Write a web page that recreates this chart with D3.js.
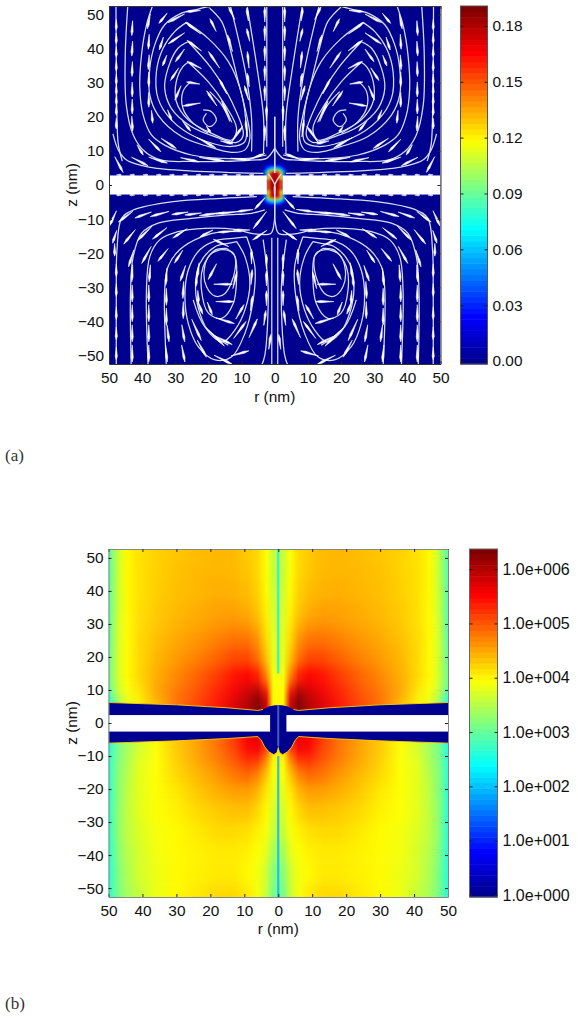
<!DOCTYPE html>
<html>
<head>
<meta charset="utf-8">
<script src="https://cdn.jsdelivr.net/npm/d3@7"></script>
<style>
    html, body { margin: 0; background: #fff; }
    svg { display: block; }
</style>
</head>
<body>
<svg id="chart" width="578" height="1020"></svg>
<script>
// shared ticks
const axisTicks = [-50, -40, -30, -20, -10, 0, 10, 20, 30, 40, 50];

// panel (a) colorbar
const velocityTicks = [0, 0.03, 0.06, 0.09, 0.12, 0.15, 0.18];
const velocityDomain = [-0.0016, 0.1907];

// panel (a) colour inside the pore, |r| columns and z rows (r >= 0, mirrored when drawn)
const poreCols = [0, 1, 2, 2.8, 3.6, 4.5, 6];
const poreRows = [7, 6, 5.2, 4.6, 4, 3.4, 2.8, 0, -2.8, -3.4, -4, -4.6, -5.2, -6, -7];
const poreValues = [
    [0, 0, 0, 0, 0, 0, 0],
    [.02, .015, .01, .005, 0, 0, 0],
    [.05, .045, .03, .018, .006, 0, 0],
    [.09, .08, .06, .03, .01, 0, 0],
    [.14, .13, .09, .05, .015, .002, 0],
    [.175, .165, .11, .05, .01, 0, 0],
    [.18, .175, .12, .04, 0, 0, 0],
    [.185, .18, .15, .04, 0, 0, 0],
    [.18, .175, .12, .04, 0, 0, 0],
    [.175, .165, .11, .05, .01, 0, 0],
    [.14, .13, .1, .055, .02, .002, 0],
    [.09, .085, .07, .04, .012, 0, 0],
    [.05, .05, .035, .02, .006, 0, 0],
    [.02, .015, .01, .005, 0, 0, 0],
    [0, 0, 0, 0, 0, 0, 0]
];

// panel (a) streamlines on the r < 0 side as [r, z], mirrored when drawn
const streamTop = [
    [[-48.8, 15], [-47.2, 10.3], [-44.7, 7.3], [-40, 5.7], [-35.6, 4.9], [-20.5, 3.9], [-8, 3.5], [-3.4, 3.4]],
    [[-44.3, 53], [-45.1, 38.1], [-44.8, 23.5], [-42.7, 14.7], [-39.2, 9.8], [-34.2, 7.3], [-25.1, 6.9], [-16.1, 6.9], [-7, 7.3], [-2.5, 7.8], [0, 10.8]],
    [[-36.7, 53], [-38.7, 46.9], [-40.2, 38.1], [-40.7, 28.4], [-39.7, 20.5], [-37.2, 14.7], [-33.2, 11.7], [-25.1, 8.8], [-16.1, 7.8], [-8, 7.8], [-2.5, 8.8]],
    [[-20.1, 52.3], [-16, 47.9], [-13.5, 40.1], [-11, 30.3], [-8.5, 20.5], [-7.5, 13.7], [-9, 10.3], [-13, 9.6], [-20.1, 11.3], [-28.1, 14.2], [-35.2, 20.5], [-37.7, 26.4], [-37.7, 34.2], [-36.2, 41.1], [-33.2, 47], [-28.1, 50.4], [-23.1, 51.6], [-20.1, 52.3]],
    [[-26.6, 47.7], [-20.1, 43], [-14, 36.2], [-10.5, 28.4], [-8.8, 19.6], [-9, 12.7], [-13, 11.3], [-23.1, 13.7], [-31.2, 19.1], [-35.2, 25.4], [-35.7, 33.2], [-33.7, 40.1], [-30.2, 45], [-26.6, 47.7]],
    [[-26.1, 42], [-19.1, 34.2], [-13, 24.5], [-9.5, 14.7], [-11.5, 12.5], [-18.1, 14.2], [-25.1, 17.1], [-31.2, 22.5], [-33.2, 28.4], [-32.2, 34.2], [-29.2, 40.1], [-26.1, 42]],
    [[-26.1, 36], [-20.1, 30.3], [-15, 23.5], [-11.5, 16.6], [-13, 13.2], [-19.1, 15.2], [-26.1, 19.1], [-29.7, 24.5], [-29.7, 30.3], [-27.7, 34.7], [-26.1, 36]],
    [[-25.6, 30.1], [-27.7, 27.4], [-27.7, 22.5], [-25.1, 18.6], [-20.1, 15.2]],
    [[-19.6, 27.4], [-16, 23.5], [-13.5, 18.6]],
    [[-21.6, 22], [-19.1, 21.5], [-17.6, 19], [-19.6, 17.1], [-21.6, 19], [-20.6, 21]],
    [[-47.9, 53], [-47.8, 35], [-47.6, 20], [-47.2, 12], [-46, 7]],
    [[-13.5, 53], [-11, 43], [-8.5, 31.3], [-7, 19.6], [-7, 9.8]],
    [[-8.4, 53], [-5.4, 34.7], [-3.4, 20], [-3.4, 9.3]],
    [[-2.4, 53], [-2.4, 25], [-2.4, 11.2]],
    [[0, 20], [0, 3.5]],
    [[-2, 3.3], [0, 0], [0, -3.3]]
];
const streamBottom = [
    [[-47.8, -53], [-47.8, -30.8], [-47.6, -19.1], [-46.2, -9.8], [-42.6, -7.3], [-30.6, -4.9], [-16, -3.9], [-5.4, -3.4]],
    [[-43.3, -53], [-43.5, -30.8], [-42.7, -21], [-40.2, -14.2], [-35.2, -11.2], [-25.1, -9.8], [-15, -8.8], [-7, -8.3], [-3, -7.3]],
    [[-38.2, -53], [-38.7, -30.8], [-37.7, -21], [-34.7, -16.1], [-29.2, -13.7], [-21.1, -12.7], [-12, -13], [-7, -14.2], [-1.2, -14.2], [-0.2, -11.2], [0, -8]],
    [[-32.7, -53], [-33.2, -30.8], [-32.2, -24], [-28.7, -19], [-22.1, -15.2], [-16, -13.7], [-10, -13.7]],
    [[-8.5, -15.2], [-6, -24], [-6.5, -33.7], [-9, -43.5], [-13, -50.4], [-18, -51.3], [-23.1, -47.4], [-26.1, -40.6], [-27.1, -32.8], [-26.1, -25], [-22.6, -19], [-17, -16.1], [-12, -15.6], [-8.5, -15.2]],
    [[-11.5, -16.6], [-9, -21], [-7.5, -28.8], [-9, -36.7], [-12, -42.5], [-15.6, -46], [-19.6, -43.5], [-22.6, -37.6], [-23.9, -29.8], [-22.6, -23], [-18, -18.1], [-14, -17.1], [-11.5, -16.6]],
    [[-14.5, -18.6], [-12, -21], [-11.5, -26.9], [-12.5, -34.7], [-16, -39.1], [-20, -37.6], [-22.1, -30.8], [-21.6, -24], [-18, -19.1], [-14.5, -18.6]],
    [[-16, -18.9], [-12.5, -20], [-12, -25], [-15, -31.8], [-18, -32.6], [-20.6, -29.8], [-21.3, -25], [-19.6, -20.5], [-16, -18.9]],
    [[-3.5, -16], [-2, -30], [-3, -50], [-4, -53]],
    [[-0.9, -15.5], [-0.9, -53]],
    [[-24.6, -33.7], [-21.1, -41.6], [-14, -47]],
    [[0, -3.3], [0, -8]]
];

// panel (a) arrows: centre r, centre z, and flow vector dr, dz in nm
const arrowsTop = [
    [-47.8, 47, 0, -2.5], [-47.8, 43, 0, -2.5], [-47.8, 39, 0, -2.5], [-47.8, 35, 0, -2.5], [-47.8, 31, 0, -2.5], [-47.8, 28, 0, -2.5], [-47.8, 25, 0, -2.5], [-47.8, 22, 0, -2.5], [-47.8, 18, 0, -2.5],
    [-43, 46, -.2, -3.5], [-43, 40, -.2, -3.5], [-43, 34, -.1, -3.5], [-43, 28, 0, -3.5], [-43, 23, 0, -3.5], [-43, 18, .2, -3.5],
    [-38, 48, -.7, -3.5], [-38, 42, -.2, -3.5], [-38, 36, -.2, -3.5], [-38, 31, 0, -3.5], [-38, 25, 0, -3.5], [-37, 20, .3, -3],
    [-33.7, 48.9, -2, -2.4], [-29.7, 48.9, -4, -2], [-24.6, 51, -3.5, -.3], [-24.6, 46, -3.7, 2.7], [-18.6, 46.9, -1.5, 3], [-13, 50.4, -1.5, 3],
    [-29.7, 43, -4, -2.6], [-34.2, 41.5, -1, -3], [-24.3, 40.9, -3.5, 2.5], [-13.5, 41.6, -1.2, 3.9], [-28.6, 38, -2.2, -3], [-33.2, 36.5, -1, -2.5],
    [-18.3, 36.7, -2.7, 3.9], [-8, 36.7, -.4, 3.9], [-24.3, 35.2, -3.5, 1.7], [-30.2, 32.5, -2, -3], [-15.6, 28.9, -1.8, 3.5], [-8, 30.8, -.5, 3.2],
    [-3, 32.8, 0, 3.5], [-3, 26.9, 0, 3.5], [-3, 38.6, 0, 3.5], [-3, 44.5, 0, 3.5], [-3, 50, 0, 3.5], [-8, 44, -.7, 3], [-8.2, 50, -.4, 3],
    [-24.6, 29.9, -3.2, .5], [-29.2, 27, -1.5, -3.4], [-25.1, 23.6, -4.3, -.7], [-19, 25.4, -2.5, 3.6], [-14.5, 21.5, -2.5, 5], [-8.5, 27, -1, 3.4],
    [-8.5, 16.6, -.5, 4], [-11.5, 14.7, 3, 4.2], [-2.5, 21, 0, 3.5], [-3, 15.2, 0, 3.5], [-31.7, 20.5, 1, -2.5], [-26.6, 17.3, 2, -2.4], [-20, 16.3, 1, -1.5],
    [-36.2, 11.6, 3, -3], [-32, 12.2, 3.7, -2.4], [-20.6, 12.4, 4.5, -2.4], [-14.5, 12.5, 3, -.7], [-40.6, 10.3, 1.5, -2.4], [-47, 6, 2, -3.7],
    [-40.7, 6.9, 4, -2], [-35.2, 7.3, 4.5, -1.4], [-25.6, 7.4, 4.5, -1], [-19, 7.6, 6, -.8], [-10.5, 7.6, 4.5, -.4], [-5.5, 8.3, 4, 1.5]
];
const arrowsBottom = [
    [-48.8, -9.8, -1.7, -3.6], [-45, -9.3, -3.5, -2.5], [-39.7, -8.8, -4, -1.4], [-34.7, -8.5, -4.5, -1.2], [-28.6, -8.3, -4, -.6], [-24.6, -8.5, -4, -.5],
    [-19, -8.5, -6, -.8], [-14, -8.1, -6, -.6], [-9, -7.5, -4, -.5], [-4.5, -10.3, -3.2, -4], [-4.5, -5.4, -2.5, -2.7],
    [-43.8, -15.2, -2.8, -3.4], [-48.3, -15.2, -1, -3], [-39.2, -14.2, -3.5, -3.4], [-34.7, -14.2, -3.5, -2.7], [-28.6, -14.2, -3.5, -2.2], [-20.6, -14.2, -3.2, -1.6],
    [-14.5, -13.7, -4, -.3], [-10, -13.2, -4, 0], [-4.5, -14.7, -3.5, -2.3], [-38.7, -20.5, -2.3, -4], [-33.7, -20.5, -2.5, -3], [-43.3, -21.5, -1.3, -4], [-48.3, -19, 0, -3],
    [-29, -21, -2, -3], [-27.7, -25.9, -1.3, -3.7], [-23.1, -25, -.5, -3.5], [-23.6, -27.9, -.3, -3], [-18.8, -25.4, -2, -3.7], [-16.2, -17, -3.7, 1.7],
    [-7, -21, 0, 3.5], [-2.5, -22.5, 0, 3.5], [-2.5, -27.4, 0, 3.5], [-2.5, -33.2, 0, 3.5], [-3, -39, .5, 3.5], [-1.5, -46, .5, 3.5], [-7, -27, .3, 3.5], [-12, -27.9, 1, 4],
    [-15.6, -29.1, 4.5, 0], [-15, -34.2, 4.5, 0], [-15, -39.8, 4.5, -1.3], [-10.5, -37.2, 2, 3.4], [-7, -34.7, .5, 3.5], [-6.5, -42, 2, 4.4], [-10.5, -42.5, 3, 4],
    [-15.5, -45.5, 4.3, -2.1], [-10.5, -49.4, 4.3, 1.2], [-15.5, -51.3, 4.5, -2.2], [-23.1, -32.8, .2, -3], [-22.6, -35.7, 1.4, -3.5], [-19.6, -36.2, 1.2, -3],
    [-23.6, -42.5, 2.3, -5], [-18, -44.5, 4.5, -4.4], [-27.6, -36.7, 0, -4], [-32.7, -32.8, 0, -4], [-32.7, -26.9, -.3, -4], [-32.7, -38.6, 0, -4], [-32.2, -43.5, .5, -4],
    [-27.6, -43.5, .7, -4], [-27.6, -30.8, -.2, -4], [-37.7, -25.9, -.3, -4], [-38, -31.8, 0, -4], [-38, -37.6, 0, -4], [-38, -43.5, 0, -4], [-38, -49.4, 0, -4],
    [-43, -25.9, -.2, -4], [-43, -31.8, 0, -4], [-43, -37.6, 0, -4], [-43, -43.5, 0, -4], [-43, -49.4, 0, -4], [-47.8, -25, 0, -3], [-47.8, -30.8, 0, -3],
    [-47.8, -37.6, 0, -3], [-47.8, -43.5, 0, -3], [-47.8, -49.4, 0, -3], [-22, -48, 2.2, -4], [-32.7, -49.4, .4, -4], [-27.6, -49.4, .8, -4]
];

// small arrows that sit on the slab edges in panel (a)
const slabArrowR = [-47, -43, -39, -35, -31, -27, -23, -19, -15, -11, -7];
const slabA = { rPore: 2.4, zHalf: 2.8 };

// panel (b) colorbar, log10 of the value
const forceTicks = [0, 1, 2, 3, 4, 5, 6];
const forceDomain = [-0.037, 6.37];

// panel (b) log10 values, |r| columns by z rows (mirrored in r when drawn)
const fieldCols = [50, 48, 46.5, 44.5, 41, 36, 30, 24, 18, 13, 9, 6, 3.5, 1.5];
const fieldRows = [52.7, 46, 40, 34, 30, 25, 20, 14, 10, 8, 6, 4, -4, -7, -9, -12, -16, -21, -27, -33, -39, -45, -52.7];
const fieldLog = [
    [2.9, 3.4, 3.75, 4.0, 4.15, 4.25, 4.32, 4.38, 4.42, 4.4, 4.3, 4.2, 3.95, 3.6],
    [2.9, 3.4, 3.75, 4.0, 4.15, 4.25, 4.35, 4.4, 4.42, 4.4, 4.32, 4.2, 3.95, 3.6],
    [2.9, 3.45, 3.75, 4.0, 4.15, 4.27, 4.37, 4.42, 4.47, 4.45, 4.38, 4.25, 4.0, 3.65],
    [2.9, 3.45, 3.75, 4.0, 4.17, 4.3, 4.4, 4.48, 4.55, 4.55, 4.47, 4.32, 4.05, 3.7],
    [2.9, 3.5, 3.8, 4.0, 4.17, 4.32, 4.45, 4.53, 4.62, 4.67, 4.62, 4.45, 4.12, 3.75],
    [2.9, 3.5, 3.8, 4.0, 4.2, 4.37, 4.52, 4.64, 4.78, 4.88, 4.85, 4.65, 4.2, 3.8],
    [3.0, 3.5, 3.8, 4.0, 4.2, 4.42, 4.6, 4.76, 4.95, 5.12, 5.12, 4.85, 4.35, 3.8],
    [3.05, 3.5, 3.8, 4.0, 4.22, 4.47, 4.72, 4.95, 5.2, 5.45, 5.55, 5.35, 4.7, 3.9],
    [3.0, 3.45, 3.75, 3.95, 4.15, 4.52, 4.8, 5.05, 5.35, 5.6, 5.8, 5.9, 5.3, 4.0],
    [2.7, 3.3, 3.6, 3.85, 4.1, 4.5, 4.85, 5.1, 5.4, 5.7, 6.0, 6.3, 5.8, 4.0],
    [2.4, 3.1, 3.5, 3.8, 4.05, 4.4, 4.85, 5.15, 5.45, 5.8, 6.05, 6.37, 5.9, 4.0],
    [2.4, 3.1, 3.5, 3.8, 4.05, 4.4, 4.85, 5.15, 5.45, 5.8, 6.05, 6.37, 5.9, 4.0],
    [2.5, 3.0, 3.2, 3.4, 3.7, 4.0, 4.3, 4.55, 4.85, 5.2, 5.6, 5.7, 5.3, 4.2],
    [2.5, 3.0, 3.2, 3.4, 3.7, 4.0, 4.3, 4.55, 4.85, 5.2, 5.6, 5.7, 5.3, 4.2],
    [2.6, 3.0, 3.2, 3.4, 3.7, 3.95, 4.3, 4.55, 4.85, 5.15, 5.5, 5.55, 5.0, 4.1],
    [2.6, 3.05, 3.25, 3.45, 3.8, 3.95, 4.25, 4.5, 4.75, 5.0, 5.2, 5.1, 4.6, 4.0],
    [2.6, 3.1, 3.3, 3.5, 3.8, 3.95, 4.2, 4.4, 4.6, 4.8, 4.9, 4.7, 4.3, 3.9],
    [2.6, 3.1, 3.3, 3.55, 3.8, 3.95, 4.1, 4.3, 4.45, 4.55, 4.55, 4.4, 4.1, 3.8],
    [2.6, 3.1, 3.35, 3.55, 3.8, 3.95, 4.05, 4.2, 4.3, 4.35, 4.35, 4.2, 4.0, 3.7],
    [2.6, 3.1, 3.35, 3.55, 3.75, 3.9, 4.0, 4.1, 4.2, 4.2, 4.15, 4.05, 3.9, 3.6],
    [2.6, 3.05, 3.3, 3.5, 3.7, 3.9, 4.0, 4.05, 4.1, 4.1, 4.05, 3.95, 3.8, 3.4],
    [2.6, 3.0, 3.25, 3.45, 3.7, 3.85, 4.0, 4.05, 4.1, 4.1, 4.0, 3.9, 3.65, 3.2],
    [2.6, 3.0, 3.2, 3.4, 3.6, 3.85, 4.0, 4.1, 4.2, 4.2, 4.1, 3.9, 3.6, 3.1]
];

// panel (b) dark band outline, r < 0 side, outer edge to axis
const bandTop = [[-50, 6.2], [-30, 5.5], [-15, 4.6], [-6, 3.8], [-4.5, 4.1], [-2.8, 5], [-1, 5.4], [0, 5.4]];
const bandBottom = [[-50, -6.1], [-30, -5.4], [-15, -4.7], [-6, -4.1], [-5, -5.2], [-4, -7.2], [-2.8, -8.7], [-1.3, -9.6], [-0.5, -9], [0, -7]];
const slabB = { rPore: 2.4, zTop: 2.4, zBottom: -2.6 };

// panel (b) values right on the r = 0 axis: z from, z to, log10
const axisLine = [[52.7, 15, 2.3], [15, 9.5, 3.9], [5.4, -7, 1.0], [-10, -52.7, 1.9]];

// colour map, 64 steps like the colorbars
const jet = d3.scaleLinear()
    .domain([0, .125, .375, .625, .875, 1])
    .range(["#00008f", "#0000ff", "#00ffff", "#ffff00", "#ff0000", "#800000"])
    .clamp(true);
const LEVELS = 64;
const FONT = "'Liberation Sans', Arial, sans-serif";

const svg = d3.select("#chart");
const defs = svg.append("defs");

/**
 * Sets up x, y scales and the clip for one panel
 */
function makePanel(id, box, zMax) {
    const x = d3.scaleLinear().domain([-50, 50]).range([box.left, box.right]),
        y = d3.scaleLinear().domain([zMax, -zMax]).range([box.top, box.bottom]);
    defs.append("clipPath")
        .attr("id", "clip-" + id)
        .append("rect")
        .attr("x", box.left)
        .attr("y", box.top)
        .attr("width", box.right - box.left)
        .attr("height", box.bottom - box.top);
    const plot = svg.append("g").attr("clip-path", `url(#clip-${id})`);
    return { x, y, box, plot };
}

/**
 * Draws rows of a field as horizontal gradients, mirrored about r = 0, blurred together
 */
function drawField(panel, id, cols, rows, values, colour, blur) {
    const { x, y, plot } = panel;
    const filter = defs.append("filter")
        .attr("id", "blur-" + id)
        .attr("filterUnits", "userSpaceOnUse")
        .attr("x", 0).attr("y", 0).attr("width", 578).attr("height", 1020)
        .attr("color-interpolation-filters", "sRGB");
    filter.append("feGaussianBlur").attr("stdDeviation", blur);

    const group = plot.append("g").attr("filter", `url(#blur-${id})`);
    const rMax = d3.max(cols);
    rows.forEach((z, i) => {
        const stops = cols.map((r, j) => [-r, values[i][j]])
            .concat(cols.map((r, j) => [r, values[i][j]]).filter(d => d[0] !== 0))
            .sort((a, b) => a[0] - b[0]);
        const grad = defs.append("linearGradient")
            .attr("id", `row-${id}-${i}`)
            .attr("gradientUnits", "userSpaceOnUse")
            .attr("x1", x(-rMax))
            .attr("x2", x(rMax))
            .attr("y1", 0)
            .attr("y2", 0);
        grad.selectAll("stop")
            .data(stops)
            .enter()
            .append("stop")
            .attr("offset", d => (d[0] + rMax) / (2 * rMax))
            .attr("stop-color", d => colour(d[1]));
        const yTop = i === 0 ? y(z) - 30 : y((z + rows[i - 1]) / 2),
            yBottom = i === rows.length - 1 ? y(z) + 30 : y((z + rows[i + 1]) / 2);
        group.append("rect")
            .attr("x", x(-rMax) - 30)
            .attr("y", yTop)
            .attr("width", x(rMax) - x(-rMax) + 60)
            .attr("height", yBottom - yTop)
            .attr("fill", `url(#row-${id}-${i})`);
    });
}

/**
 * Draws the axis frame with ticks on all four sides, labels on left and bottom
 */
function drawAxes(panel, fontSize, frameColour) {
    const { x, y, box } = panel;
    const root = svg.append("g");
    const sides = [
        { axis: d3.axisBottom(x).tickFormat(d => Math.abs(d)).tickPadding(8), at: [0, box.bottom] },
        { axis: d3.axisTop(x).tickFormat(""), at: [0, box.top] },
        { axis: d3.axisLeft(y).tickPadding(5), at: [box.left, 0] },
        { axis: d3.axisRight(y).tickFormat(""), at: [box.right, 0] }
    ];
    sides.forEach(s => {
        const g = root.append("g")
            .attr("transform", `translate(${s.at[0]},${s.at[1]})`)
            .call(s.axis.tickValues(axisTicks).tickSizeInner(-3).tickSizeOuter(0));
        g.select(".domain").attr("stroke", frameColour);
        g.selectAll(".tick line").attr("stroke", "#222");
        g.selectAll("text").attr("font-family", FONT).attr("font-size", fontSize).attr("fill", "#111");
    });
}

/**
 * Draws a 64 step colorbar with its axis on the right
 */
function drawColorbar(box, domain, ticks, format, fontSize, colour, frameColour) {
    const y = d3.scaleLinear().domain(domain).range([box.bottom, box.top]);
    const step = (domain[1] - domain[0]) / LEVELS;
    svg.append("g")
        .selectAll("rect")
        .data(d3.range(LEVELS))
        .enter()
        .append("rect")
        .attr("x", box.left)
        .attr("width", box.right - box.left)
        .attr("y", d => y(domain[0] + (d + 1) * step))
        .attr("height", d => y(domain[0] + d * step) - y(domain[0] + (d + 1) * step) + 0.5)
        .attr("fill", d => colour(domain[0] + (d + 0.5) * step));
    svg.append("rect")
        .attr("x", box.left)
        .attr("y", box.top)
        .attr("width", box.right - box.left)
        .attr("height", box.bottom - box.top)
        .attr("fill", "none")
        .attr("stroke", frameColour);
    const right = svg.append("g")
        .attr("transform", `translate(${box.right},0)`)
        .call(d3.axisRight(y).tickValues(ticks).tickFormat(format).tickSizeInner(-3).tickSizeOuter(0).tickPadding(5));
    right.select(".domain").remove();
    right.selectAll(".tick line").attr("stroke", "#222");
    right.selectAll("text").attr("font-family", FONT).attr("font-size", fontSize).attr("fill", "#111");
    svg.append("g")
        .attr("transform", `translate(${box.left},0)`)
        .call(d3.axisLeft(y).tickValues(ticks).tickFormat("").tickSizeInner(-3).tickSizeOuter(0))
        .call(g => g.select(".domain").remove())
        .selectAll(".tick line").attr("stroke", "#222");
}

function axisTitles(box, zX, rY, fontSize) {
    svg.append("text")
        .attr("x", (box.left + box.right) / 2)
        .attr("y", rY)
        .attr("text-anchor", "middle")
        .attr("font-family", FONT)
        .attr("font-size", fontSize)
        .attr("fill", "#111")
        .text("r (nm)");
    svg.append("text")
        .attr("transform", `translate(${zX},${(box.top + box.bottom) / 2}) rotate(-90)`)
        .attr("text-anchor", "middle")
        .attr("font-family", FONT)
        .attr("font-size", fontSize)
        .attr("fill", "#111")
        .text("z (nm)");
}

function caption(label, yPos) {
    svg.append("text")
        .attr("x", 5)
        .attr("y", yPos)
        .attr("font-family", "'Liberation Serif', 'DejaVu Serif', serif")
        .attr("font-size", 17)
        .attr("fill", "#333")
        .text(label);
}

/* ---------- panel (a) ---------- */
const panelA = makePanel("a", { left: 109, right: 440.5, top: 6, bottom: 364 }, 52.5);
const velocityColour = v => {
    const t = (v - velocityDomain[0]) / (velocityDomain[1] - velocityDomain[0]);
    return jet(Math.floor(t * LEVELS) / (LEVELS - 1));
};

panelA.plot.append("rect")
    .attr("x", panelA.box.left)
    .attr("y", panelA.box.top)
    .attr("width", panelA.box.right - panelA.box.left)
    .attr("height", panelA.box.bottom - panelA.box.top)
    .attr("fill", "#00008f");
drawField(panelA, "a", poreCols, poreRows, poreValues, velocityColour, "1 1");

// white slab with the pore gap
[-1, 1].forEach(side => {
    const r0 = side < 0 ? -50 : slabA.rPore;
    panelA.plot.append("rect")
        .attr("x", panelA.x(r0))
        .attr("y", panelA.y(slabA.zHalf))
        .attr("width", panelA.x(r0 + 50 - slabA.rPore) - panelA.x(r0))
        .attr("height", panelA.y(-slabA.zHalf) - panelA.y(slabA.zHalf))
        .attr("fill", "#fff");
});

const streamLine = panel => d3.line()
    .x(d => panel.x(d[0]))
    .y(d => panel.y(d[1]))
    .curve(d3.curveCatmullRom.alpha(0.5));

// soft filter so thin marks look like the scanned original
const soft = defs.append("filter")
    .attr("id", "soft")
    .attr("filterUnits", "userSpaceOnUse")
    .attr("x", 0).attr("y", 0).attr("width", 578).attr("height", 1020)
    .attr("color-interpolation-filters", "sRGB");
soft.append("feGaussianBlur").attr("stdDeviation", 0.35);

const streamGroup = panelA.plot.append("g")
    .attr("fill", "none")
    .attr("stroke", "#d5dcef")
    .attr("stroke-width", 1.25)
    .attr("filter", "url(#soft)");
[-1, 1].forEach(side => {
    const line = streamLine(panelA);
    streamGroup.selectAll(null)
        .data(streamTop.concat(streamBottom))
        .enter()
        .append("path")
        .attr("d", d => line(d.map(p => [side * p[0], p[1]])));
});

// needle shaped arrows, widest close to the head
const ARROW_STRETCH = 1.25;
function arrowPath(panel, d, side, width) {
    const hx = d[2] * ARROW_STRETCH / 2,
        hz = d[3] * ARROW_STRETCH / 2,
        x0 = panel.x(side * (d[0] - hx)),
        y0 = panel.y(d[1] - hz),
        x1 = panel.x(side * (d[0] + hx)),
        y1 = panel.y(d[1] + hz),
        dx = x1 - x0,
        dy = y1 - y0,
        len = Math.hypot(dx, dy) || 1,
        nx = -dy / len * width,
        ny = dx / len * width,
        mx = x0 + dx * 0.72,
        my = y0 + dy * 0.72;
    const p = d3.path();
    p.moveTo(x0, y0);
    p.lineTo(mx + nx, my + ny);
    p.lineTo(x1, y1);
    p.lineTo(mx - nx, my - ny);
    p.closePath();
    return p.toString();
}

const arrowGroup = panelA.plot.append("g")
    .attr("fill", "#fff")
    .attr("stroke", "#fff")
    .attr("stroke-width", 0.6)
    .attr("filter", "url(#soft)");
[-1, 1].forEach(side => {
    arrowGroup.selectAll(null)
        .data(arrowsTop.concat(arrowsBottom))
        .enter()
        .append("path")
        .attr("d", d => arrowPath(panelA, d, side, 1.05));
    // tiny arrows hugging the slab, they read as bumps on its edges
    arrowGroup.selectAll(null)
        .data(slabArrowR.flatMap(r => [[r, slabA.zHalf + .15, 1.2, 0], [r, -slabA.zHalf - .15, -1.2, 0]]))
        .enter()
        .append("path")
        .attr("d", d => arrowPath(panelA, d, side, 0.8));
});

drawAxes(panelA, 15.4, "#333");
axisTitles(panelA.box, 77, 402, 15.4);
drawColorbar({ left: 460.5, right: 487.5, top: 6, bottom: 364 }, velocityDomain, velocityTicks, d3.format(".2f"), 15.4, velocityColour, "#555");
caption("(a)", 461);

/* ---------- panel (b) ---------- */
const panelB = makePanel("b", { left: 108.5, right: 448, top: 549, bottom: 897 }, 52.7);
const forceColour = v => {
    const t = (v - forceDomain[0]) / (forceDomain[1] - forceDomain[0]);
    return jet(Math.floor(t * LEVELS) / (LEVELS - 1));
};
const forceSmooth = v => jet((v - forceDomain[0]) / (forceDomain[1] - forceDomain[0]));

drawField(panelB, "b", fieldCols, fieldRows, fieldLog, forceSmooth, "0 6");

// values along the axis, drawn as a narrow strip
panelB.plot.append("g")
    .selectAll("line")
    .data(axisLine)
    .enter()
    .append("line")
    .attr("x1", panelB.x(0))
    .attr("x2", panelB.x(0))
    .attr("y1", d => panelB.y(d[0]))
    .attr("y2", d => panelB.y(d[1]))
    .attr("stroke", d => forceColour(d[2]))
    .attr("stroke-opacity", 0.8)
    .attr("stroke-width", 2.2);

// dark band around the slab
const mirror = pts => pts.map(p => [-p[0], p[1]]);
const bandOutline = bandTop
    .concat(mirror(bandTop).reverse().slice(1))
    .concat(mirror(bandBottom))
    .concat(bandBottom.slice(0, -1).reverse());
const bandLine = d3.line().x(d => panelB.x(d[0])).y(d => panelB.y(d[1]));
panelB.plot.append("path")
    .attr("d", bandLine(bandOutline) + "Z")
    .attr("fill", "#00008f");

// thin warm rim on the field side of the band edge
panelB.plot.append("g")
    .selectAll("path")
    .data([bandTop.slice(0, 5), mirror(bandTop.slice(0, 5)), bandBottom.slice(0, 9), mirror(bandBottom.slice(0, 9))])
    .enter()
    .append("path")
    .attr("d", bandLine)
    .attr("fill", "none")
    .attr("stroke", "#ffd000")
    .attr("stroke-width", 0.9);

// axis strip shows through the band
panelB.plot.append("line")
    .attr("x1", panelB.x(0))
    .attr("x2", panelB.x(0))
    .attr("y1", panelB.y(axisLine[2][0]))
    .attr("y2", panelB.y(axisLine[2][1]))
    .attr("stroke", "#3f5fbf")
    .attr("stroke-width", 2);

[-1, 1].forEach(side => {
    const r0 = side < 0 ? -50 : slabB.rPore;
    panelB.plot.append("rect")
        .attr("x", panelB.x(r0))
        .attr("y", panelB.y(slabB.zTop))
        .attr("width", panelB.x(r0 + 50 - slabB.rPore) - panelB.x(r0))
        .attr("height", panelB.y(slabB.zBottom) - panelB.y(slabB.zTop))
        .attr("fill", "#fff");
});

drawAxes(panelB, 15.4, "#888");
axisTitles(panelB.box, 77, 934, 15.4);
drawColorbar({ left: 469.5, right: 497.5, top: 549, bottom: 897 }, forceDomain, forceTicks,
    d => "1.0e+" + String(d).padStart(3, "0"), 16, forceColour, "#666");
caption("(b)", 1009);
</script>
</body>
</html>
